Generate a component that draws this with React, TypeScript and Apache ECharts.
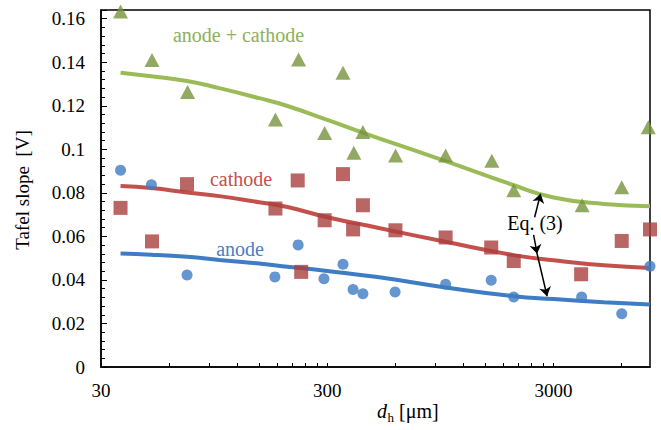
import React, { useEffect, useRef } from 'react';
import * as echarts from 'echarts';

// Hole diameter d_h [µm] and measured Tafel slopes [V]
const D_SUM = [36.6, 50.4, 72.4, 177, 224, 292, 352, 393, 431, 601, 1000, 1600, 2000, 4010, 6000, 7860];
const V_SUM = [0.1633, 0.141, 0.1263, 0.1137, 0.1413, 0.1075, 0.1352, 0.0984, 0.1079, 0.0972, 0.0972, 0.0948, 0.0812, 0.0743, 0.0826, 0.1101];

const D_CATHODE = [36.6, 50.4, 72, 177, 222, 230, 292, 352, 390, 431, 600, 1000, 1590, 2000, 3970, 6000, 8000];
const V_CATHODE = [0.0731, 0.0577, 0.084, 0.0728, 0.0857, 0.0437, 0.0674, 0.0886, 0.0632, 0.0743, 0.0628, 0.0595, 0.0549, 0.0487, 0.0426, 0.0579, 0.0632];

const D_ANODE = [36.6, 50.1, 72, 176, 223, 290, 352, 390, 431, 598, 1000, 1590, 2000, 3990, 6000, 8000];
const V_ANODE = [0.0904, 0.0837, 0.0423, 0.0414, 0.0561, 0.0405, 0.0472, 0.0356, 0.0337, 0.0345, 0.038, 0.0399, 0.0322, 0.0322, 0.0245, 0.0463];

// Eq. (3) model curves
const FIT_D = [36.6, 50, 72, 100, 150, 200, 300, 500, 1000, 2000, 3000, 5000, 8000];
const FIT_SUM = [0.1352, 0.1336, 0.1314, 0.1281, 0.1235, 0.1199, 0.1135, 0.1053, 0.0946, 0.0835, 0.0779, 0.0749, 0.0739];
const FIT_CATHODE = [0.0831, 0.0822, 0.0802, 0.0785, 0.0757, 0.0735, 0.0688, 0.064, 0.0575, 0.0514, 0.049, 0.0467, 0.0455];
const FIT_ANODE = [0.0521, 0.0516, 0.0506, 0.0492, 0.0475, 0.0461, 0.0441, 0.0413, 0.0365, 0.0325, 0.0312, 0.0298, 0.0287];

// Logarithmic x axis
const X_MIN = 30;
const X_MAX = 8000;
const X_LABELS = [30, 300, 3000];
const X_TICKS = [30, 60, 90, 120, 150, 180, 210, 240, 270, 300, 600, 900, 1200, 1500, 1800, 2100, 2400, 2700, 3000, 6000];

// Y axis
const Y_MIN = 0;
const Y_MAX = 0.164;
const Y_STEP = 0.02;

// "Eq. (3)" pointer arrows: [d, slope] start -> end
const ARROWS = [
  [[2473, 0.0688], [2628, 0.0796]],
  [[2448, 0.0607], [2537, 0.052]],
  [[2537, 0.052], [2808, 0.0325]],
];

const GREEN_LINE = '#9BBB59';
const GREEN_MARK = '#77933C';
const RED_LINE = '#C4504C';
const RED_MARK = '#A9403D';
const BLUE = '#3E7CC4';
const FONT = '"Liberation Serif", serif';

const lg = Math.log10;
const pts = (ds: number[], vs: number[]) => ds.map((d, i) => [lg(d), vs[i]]);

export default function App() {
  const ref = useRef<HTMLDivElement>(null);

  useEffect(() => {
    if (!ref.current) return;
    const chart = echarts.init(ref.current, undefined, { renderer: 'svg' });

    const axisText = { color: '#000', fontFamily: FONT, fontSize: 19 };

    chart.setOption({
      animation: false,
      backgroundColor: '#fff',
      grid: {
        left: 101, right: 11, top: 10, bottom: 63,
        show: true, borderColor: '#000', borderWidth: 1.5,
      },
      xAxis: {
        type: 'value',
        min: lg(X_MIN),
        max: lg(X_MAX),
        axisLine: { show: true, lineStyle: { color: '#000', width: 1.5 } },
        axisTick: {
          show: true, inside: true, length: 4,
          customValues: X_TICKS.map(lg),
          lineStyle: { color: '#000', width: 1 },
        },
        axisLabel: {
          ...axisText,
          margin: 14,
          customValues: X_LABELS.map(lg),
          formatter: (v: number) => String(Math.round(Math.pow(10, v))),
        },
        splitLine: { show: false },
      },
      yAxis: {
        type: 'value',
        min: Y_MIN,
        max: Y_MAX,
        interval: Y_STEP,
        axisLine: { show: true, lineStyle: { color: '#000', width: 1.5 } },
        axisTick: { show: true, inside: true, length: 6, lineStyle: { color: '#000', width: 1 } },
        minorTick: { show: true, splitNumber: 5, length: 4, lineStyle: { color: '#000', width: 1 } },
        axisLabel: { ...axisText, margin: 16, showMaxLabel: false },
        splitLine: { show: false },
      },
      series: [
        {
          type: 'line', name: 'anode + cathode (Eq. 3)', data: pts(FIT_D, FIT_SUM),
          smooth: true, showSymbol: false, lineStyle: { width: 4, color: GREEN_LINE }, z: 2,
          markLine: {
            silent: true,
            symbol: ['none', 'arrow'],
            symbolSize: 9,
            lineStyle: { color: '#000', width: 1.5, type: 'solid' },
            label: { show: false },
            emphasis: { disabled: true },
            data: ARROWS.map(([a, b]) => [
              { coord: [lg(a[0]), a[1]] },
              { coord: [lg(b[0]), b[1]] },
            ]),
          },
        },
        {
          type: 'line', name: 'cathode (Eq. 3)', data: pts(FIT_D, FIT_CATHODE),
          smooth: true, showSymbol: false, lineStyle: { width: 4, color: RED_LINE }, z: 2,
        },
        {
          type: 'line', name: 'anode (Eq. 3)', data: pts(FIT_D, FIT_ANODE),
          smooth: true, showSymbol: false, lineStyle: { width: 4, color: BLUE }, z: 2,
        },
        {
          type: 'scatter', name: 'anode', data: pts(D_ANODE, V_ANODE),
          symbol: 'circle', symbolSize: 11, itemStyle: { color: BLUE }, z: 3,
        },
        {
          type: 'scatter', name: 'cathode', data: pts(D_CATHODE, V_CATHODE),
          symbol: 'rect', symbolSize: 14, itemStyle: { color: RED_MARK }, z: 3,
        },
        {
          type: 'scatter', name: 'anode + cathode', data: pts(D_SUM, V_SUM),
          symbol: 'triangle', symbolSize: [15, 14], itemStyle: { color: GREEN_MARK }, z: 3,
        },
      ],
      graphic: [
        {
          type: 'text', x: 238.5, y: 35, z: 10,
          style: { text: 'anode + cathode', fill: '#8DB05A', font: `20px ${FONT}`, align: 'center', verticalAlign: 'middle' },
        },
        {
          type: 'text', x: 241, y: 179, z: 10,
          style: { text: 'cathode', fill: '#C4504C', font: `20px ${FONT}`, align: 'center', verticalAlign: 'middle' },
        },
        {
          type: 'text', x: 240, y: 249, z: 10,
          style: { text: 'anode', fill: '#4A7EC6', font: `20px ${FONT}`, align: 'center', verticalAlign: 'middle' },
        },
        {
          type: 'text', x: 535, y: 223, z: 10,
          style: { text: 'Eq. (3)', fill: '#000', font: `20px ${FONT}`, align: 'center', verticalAlign: 'middle' },
        },
        {
          type: 'text', x: 22, y: 190, rotation: Math.PI / 2, z: 10,
          style: { text: 'Tafel slope  [V]', fill: '#000', font: `19px ${FONT}`, align: 'center', verticalAlign: 'middle' },
        },
        {
          type: 'text', x: 377, y: 411, z: 10,
          style: { text: 'd', fill: '#000', font: `italic 20px ${FONT}`, align: 'left', verticalAlign: 'middle' },
        },
        {
          type: 'text', x: 387.5, y: 417, z: 10,
          style: { text: 'h', fill: '#000', font: `13px ${FONT}`, align: 'left', verticalAlign: 'middle' },
        },
        {
          type: 'text', x: 399, y: 411, z: 10,
          style: { text: '[μm]', fill: '#000', font: `20px ${FONT}`, align: 'left', verticalAlign: 'middle' },
        },
      ],
    });

    return () => chart.dispose();
  }, []);

  return (
    <div
      ref={ref}
      style={{ position: 'fixed', left: 0, top: 0, width: 661, height: 430, background: '#fff' }}
    />
  );
}
